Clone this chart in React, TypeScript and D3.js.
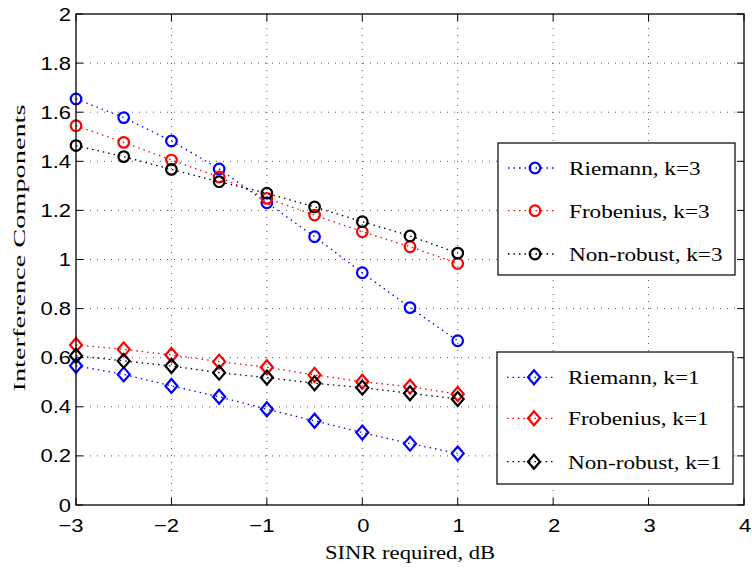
import React from "react";
import * as d3 from "d3";

// SINR requirement (dB) sampled for every curve
const sinr = [-3, -2.5, -2, -1.5, -1, -0.5, 0, 0.5, 1];

// k = 3 curves
const riemannK3 = [1.654, 1.578, 1.483, 1.369, 1.231, 1.093, 0.946, 0.804, 0.669];
const frobeniusK3 = [1.545, 1.477, 1.405, 1.336, 1.249, 1.181, 1.113, 1.052, 0.984];
const nonRobustK3 = [1.464, 1.419, 1.367, 1.317, 1.27, 1.214, 1.154, 1.096, 1.026];

// k = 1 curves
const riemannK1 = [0.567, 0.532, 0.485, 0.441, 0.39, 0.343, 0.295, 0.25, 0.21];
const frobeniusK1 = [0.652, 0.634, 0.611, 0.584, 0.561, 0.53, 0.502, 0.482, 0.452];
const nonRobustK1 = [0.608, 0.587, 0.566, 0.539, 0.519, 0.496, 0.478, 0.455, 0.432];

const xTicks = [-3, -2, -1, 0, 1, 2, 3, 4];
const yTicks = [0, 0.2, 0.4, 0.6, 0.8, 1, 1.2, 1.4, 1.6, 1.8, 2];

const legendK3 = ["Riemann, k=3", "Frobenius, k=3", "Non-robust, k=3"];
const legendK1 = ["Riemann, k=1", "Frobenius, k=1", "Non-robust, k=1"];
const colors = ["#0000ff", "#ff0000", "#000000"];

const W = 752;
const H = 568;
const plot = { left: 76, right: 744, top: 14, bottom: 505 };
// the whole figure is rendered slightly wide, so glyphs get the same stretch
const stretch = 1.19;

const x = d3.scaleLinear().domain([-3, 4]).range([plot.left, plot.right]);
const y = d3.scaleLinear().domain([0, 2]).range([plot.bottom, plot.top]);

const lineGen = d3
  .line<[number, number]>()
  .x((d) => x(d[0]))
  .y((d) => y(d[1]));

const serif = "'Liberation Serif', 'Times New Roman', serif";
const sans = "'Liberation Sans', Arial, sans-serif";

function Circle({ cx, cy, color }: { cx: number; cy: number; color: string }) {
  return <circle cx={cx} cy={cy} r={5.3} fill="none" stroke={color} strokeWidth={2.2} />;
}

function Diamond({ cx, cy, color }: { cx: number; cy: number; color: string }) {
  const w = 6, h = 7;
  const p = `M${cx},${cy - h}L${cx + w},${cy}L${cx},${cy + h}L${cx - w},${cy}Z`;
  return <path d={p} fill="none" stroke={color} strokeWidth={2.2} strokeLinejoin="miter" />;
}

function WideText({
  x: tx,
  y: ty,
  anchor = "start",
  family,
  size,
  children,
}: {
  x: number;
  y: number;
  anchor?: "start" | "middle" | "end";
  family: string;
  size: number;
  children: React.ReactNode;
}) {
  return (
    <text
      transform={`translate(${tx},${ty}) scale(${stretch},1)`}
      textAnchor={anchor}
      fontFamily={family}
      fontSize={size}
      fill="#000"
    >
      {children}
    </text>
  );
}

function Series({ values, color, marker }: { values: number[]; color: string; marker: "o" | "d" }) {
  const pts = sinr.map((s, i) => [s, values[i]] as [number, number]);
  return (
    <g>
      <path d={lineGen(pts) || ""} fill="none" stroke={color} strokeWidth={1.3} strokeDasharray="1.5,4" />
      {pts.map((p, i) =>
        marker === "o" ? (
          <Circle key={i} cx={x(p[0])} cy={y(p[1])} color={color} />
        ) : (
          <Diamond key={i} cx={x(p[0])} cy={y(p[1])} color={color} />
        )
      )}
    </g>
  );
}

function Legend({
  box,
  rows,
  labels,
  marker,
}: {
  box: { x0: number; y0: number; x1: number; y1: number };
  rows: number[];
  labels: string[];
  marker: "o" | "d";
}) {
  return (
    <g>
      <rect
        x={box.x0}
        y={box.y0}
        width={box.x1 - box.x0}
        height={box.y1 - box.y0}
        fill="#fff"
        stroke="#000"
        strokeWidth={1.2}
      />
      {labels.map((lab, i) => (
        <g key={lab}>
          <line
            x1={box.x0 + 10}
            x2={box.x0 + 56}
            y1={rows[i]}
            y2={rows[i]}
            stroke={colors[i]}
            strokeWidth={1.3}
            strokeDasharray="1.5,4"
          />
          {marker === "o" ? (
            <Circle cx={box.x0 + 37} cy={rows[i]} color={colors[i]} />
          ) : (
            <Diamond cx={box.x0 + 37} cy={rows[i]} color={colors[i]} />
          )}
          <WideText x={box.x0 + 71} y={rows[i] + 7} family={serif} size={19.5}>
            {lab}
          </WideText>
        </g>
      ))}
    </g>
  );
}

export default function App() {
  const tickLen = 7;
  return (
    <svg
      width={W}
      height={H}
      style={{ position: "absolute", left: 0, top: 0, background: "#fff" }}
    >
      <rect x={0} y={0} width={W} height={H} fill="#fff" />
      {/* grid */}
      <g stroke="#555" strokeWidth={1} strokeDasharray="1,6">
        {xTicks.slice(1, -1).map((t) => (
          <line key={"gx" + t} x1={x(t)} x2={x(t)} y1={plot.top} y2={plot.bottom} />
        ))}
        {yTicks.slice(1, -1).map((t) => (
          <line key={"gy" + t} x1={plot.left} x2={plot.right} y1={y(t)} y2={y(t)} />
        ))}
      </g>
      {/* inward ticks on all four sides */}
      <g stroke="#000" strokeWidth={1}>
        {xTicks.map((t) => (
          <g key={"tx" + t}>
            <line x1={x(t)} x2={x(t)} y1={plot.bottom} y2={plot.bottom - tickLen} />
            <line x1={x(t)} x2={x(t)} y1={plot.top} y2={plot.top + tickLen} />
          </g>
        ))}
        {yTicks.map((t) => (
          <g key={"ty" + t}>
            <line x1={plot.left} x2={plot.left + tickLen} y1={y(t)} y2={y(t)} />
            <line x1={plot.right} x2={plot.right - tickLen} y1={y(t)} y2={y(t)} />
          </g>
        ))}
      </g>
      {/* data */}
      <Series values={riemannK3} color={colors[0]} marker="o" />
      <Series values={frobeniusK3} color={colors[1]} marker="o" />
      <Series values={nonRobustK3} color={colors[2]} marker="o" />
      <Series values={riemannK1} color={colors[0]} marker="d" />
      <Series values={frobeniusK1} color={colors[1]} marker="d" />
      <Series values={nonRobustK1} color={colors[2]} marker="d" />
      {/* axes box */}
      <rect
        x={plot.left}
        y={plot.top}
        width={plot.right - plot.left}
        height={plot.bottom - plot.top}
        fill="none"
        stroke="#000"
        strokeWidth={1.3}
      />
      {/* tick labels */}
      {xTicks.map((t) => (
        <WideText
          key={"lx" + t}
          x={x(t) + (t < 0 ? -5 : 1)}
          y={532}
          anchor="middle"
          family={sans}
          size={18.5}
        >
          {t < 0 ? "\u2212" + Math.abs(t) : String(t)}
        </WideText>
      ))}
      {yTicks.map((t) => (
        <WideText key={"ly" + t} x={plot.left - 5} y={y(t) + 6.5} anchor="end" family={sans} size={18.5}>
          {String(t)}
        </WideText>
      ))}
      {/* axis titles */}
      <WideText x={(plot.left + plot.right) / 2} y={559} anchor="middle" family={serif} size={19}>
        SINR required, dB
      </WideText>
      <text
        transform={`translate(25,248) rotate(-90)`}
        textAnchor="middle"
        fontFamily={serif}
        fontSize={17}
        textLength={287}
        lengthAdjust="spacingAndGlyphs"
        fill="#000"
      >
        Interference Components
      </text>
      {/* legends */}
      <Legend
        box={{ x0: 498, y0: 143, x1: 735, y1: 275 }}
        rows={[168, 210.7, 254]}
        labels={legendK3}
        marker="o"
      />
      <Legend
        box={{ x0: 497, y0: 352, x1: 733, y1: 484 }}
        rows={[377.3, 418.3, 461.7]}
        labels={legendK1}
        marker="d"
      />
    </svg>
  );
}
